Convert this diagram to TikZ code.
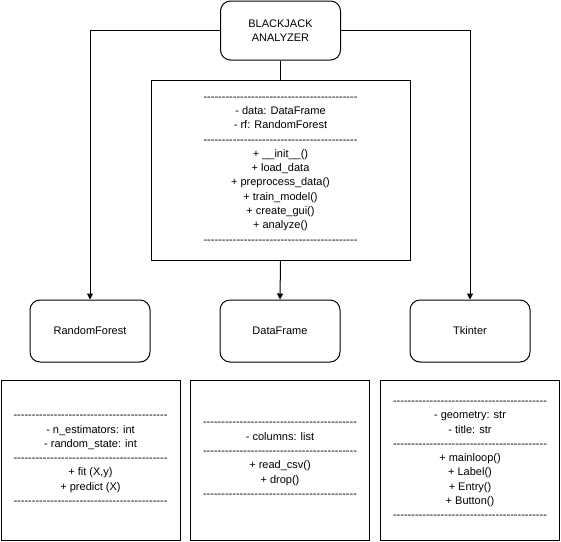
\documentclass[tikz,border=0pt]{standalone}
\usepackage{fontspec}
\setmainfont{Liberation Sans}
\usetikzlibrary{arrows.meta}
\newcommand\dashline{\foreach\i in {1,...,42}{\hbox{-}}}
\begin{document}
\begin{tikzpicture}[x=1pt,y=-1pt,line width=1pt,
  roundbox/.style={draw, rounded corners=10pt, minimum width=120pt, minimum height=62pt,
    font=\fontsize{11}{14}\selectfont, align=center, inner sep=0pt},
  classbox/.style={draw, align=center, font=\fontsize{11}{14.3}\selectfont, inner sep=0pt,
    minimum height=160pt, minimum width=179pt},
  conn/.style={-{Triangle[length=6pt,width=6pt]}}]
\useasboundingbox (0,0) rectangle (561,541);
\node[roundbox, minimum height=59pt] (ba) at (280.5,30.5) {BLACKJACK\\ANALYZER};
\node[classbox, minimum width=259pt, minimum height=180pt] (main) at (280.5,170) {\dashline\\- data: DataFrame\\- rf: RandomForest\\\dashline\\+ \_\_init\_\_()\\+ load\_data\\+ preprocess\_data()\\+ train\_model()\\+ create\_gui()\\+ analyze()\\\dashline};
\node[roundbox] (rf) at (90,331) {RandomForest};
\node[roundbox] (df) at (280,331) {DataFrame};
\node[roundbox] (tk) at (470,331) {Tkinter};
\node[classbox] (rfc) at (90.5,460) {\dashline\\- n\_estimators: int\\- random\_state: int\\\dashline\\+ fit (X,y)\\+ predict (X)\\\dashline};
\node[classbox] (dfc) at (280,460) {\dashline\\- columns: list\\\dashline\\+ read\_csv()\\+ drop()\\\dashline};
\node[classbox] (tkc) at (470,460) {\dashline\\- geometry: str\\- title: str\\\dashline\\+ mainloop()\\+ Label()\\+ Entry()\\+ Button()\\\dashline};
\draw[conn] (ba.west) -| (rf.north);
\draw[conn] (ba.east) -| (tk.north);
\draw (ba.south) -- (main.north);
\draw[conn] (main.south) -- (df.north);
\end{tikzpicture}
\end{document}
